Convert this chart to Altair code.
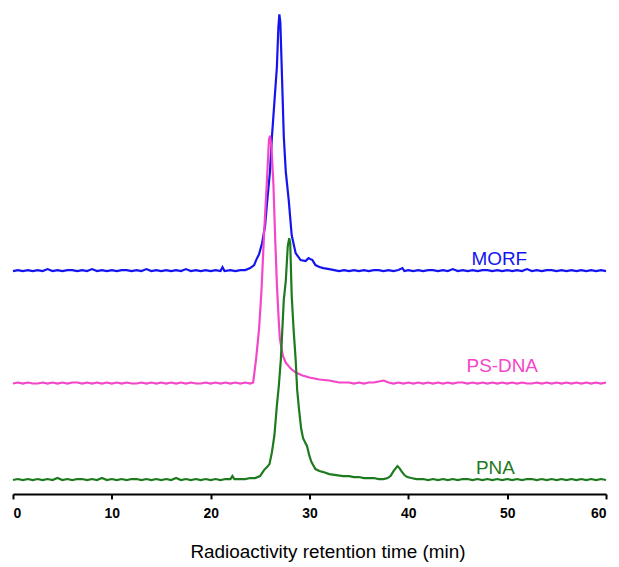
import altair as alt
import pandas as pd

# Retention time (min) and signal height above each trace's own baseline
morf_t = [0, 0.5, 1, 1.5, 2, 2.5, 3, 3.5, 4, 4.5, 5, 5.5, 6, 6.5, 7, 7.5, 8, 8.5, 9, 9.5,
          10, 10.5, 11, 11.5, 12, 12.5, 13, 13.5, 14, 14.5, 15, 15.5, 16, 16.5, 17, 17.5,
          18, 18.5, 19, 19.5, 20, 20.5, 21, 21.2, 21.4, 22, 22.5, 23, 23.5,
          24.0, 24.4, 24.6, 24.9, 25.2, 25.5, 25.7, 26.0, 26.2, 26.45, 26.7, 26.85, 26.95,
          27.05, 27.2, 27.4, 27.6, 27.9, 28.2, 28.6, 29.1, 29.6, 29.9, 30.1, 30.3, 30.6,
          31.0, 31.4, 32.0, 32.5,
          33, 33.5, 34, 34.5, 35, 35.5, 36, 36.5, 37, 37.5, 38, 38.5, 39, 39.4, 39.6, 40,
          40.5, 41, 41.5, 42, 42.5, 43, 43.5, 44, 44.5, 45, 45.5, 46, 46.5, 47, 47.5, 48,
          48.5, 49, 49.5, 50, 50.5, 51, 51.5, 52, 52.5, 53, 53.5, 54, 54.5, 55, 55.5, 56,
          56.5, 57, 57.5, 58, 58.5, 59, 59.5, 60]
morf_h = [0, 1, 0, 1, 0, 1, 0, 2, 0, 1, 0, 1, 1, 0, 1, 0, 2, 0, 1, 0,
          1, 0, 1, 1, 0, 1, 0, 2, 0, 1, 0, 1, 0, 1, 0, 2,
          0, 1, 0, 1, 0, 1, 0, 4, 0, 1, 0, 1, 1,
          3, 6, 11, 17, 28, 45, 68, 100, 135, 170, 205, 245, 258,
          250, 201, 135, 100, 71, 36, 18, 11, 10, 13, 12, 11, 6,
          4, 3, 2, 1,
          0, 1, 0, 1, 0, 1, 0, 1, 1, 0, 1, 0, 1, 3, 0, 1,
          0, 1, 0, 1, 1, 0, 1, 0, 2, 0, 1, 0, 1, 0, 1, 1,
          0, 1, 0, 1, 0, 1, 0, 2, 0, 1, 0, 1, 1, 0, 1, 0,
          1, 0, 1, 0, 1, 0, 1, 0]

psdna_t = [0, 0.5, 1, 1.5, 2, 2.5, 3, 3.5, 4, 4.5, 5, 5.5, 6, 6.5, 7, 7.5, 8, 8.5, 9, 9.5,
           10, 10.5, 11, 11.5, 12, 12.5, 13, 13.5, 14, 14.5, 15, 15.5, 16, 16.5, 17, 17.5,
           18, 18.5, 19, 19.5, 20, 20.5, 21, 21.5, 22, 22.5, 23, 23.5, 24.0, 24.3,
           24.6, 24.9, 25.15, 25.4, 25.7, 25.9, 26.0, 26.15, 26.35, 26.55, 26.7, 26.85,
           27.0, 27.3, 27.6, 28.1, 28.6, 29.3, 30.0, 31.0, 32.0, 33.0,
           34, 34.5, 35, 35.5, 36, 36.5, 37, 37.5, 38, 38.5, 39, 39.5, 40, 40.5, 41, 41.5,
           42, 42.5, 43, 43.5, 44, 44.5, 45, 45.5, 46, 46.5, 47, 47.5, 48, 48.5, 49, 49.5,
           50, 50.5, 51, 51.5, 52, 52.5, 53, 53.5, 54, 54.5, 55, 55.5, 56, 56.5, 57, 57.5,
           58, 58.5, 59, 59.5, 60]
psdna_h = [0, 1, 0, 1, 0, 0, 1, 0, 1, 0, 1, 0, 1, 1, 0, 1, 0, 1, 0, 1,
           0, 1, 0, 1, 0, 0, 1, 0, 1, 0, 1, 0, 1, 0, 1, 0,
           1, 0, 0, 1, 0, 1, 0, 1, 0, 1, 0, 1, 0, 1,
           25, 55, 95, 150, 205, 245, 249, 238, 200, 140, 100, 70,
           45, 28, 21, 15, 11, 8, 6, 4, 3, 1,
           1, 0, 1, 0, 1, 1, 2, 3, 1, 0, 1, 0, 1, 0, 1, 0,
           1, 0, 1, 0, 1, 0, 1, 1, 0, 1, 0, 1, 0, 1, 0, 1,
           0, 1, 0, 1, 0, 0, 1, 0, 1, 0, 1, 0, 1, 0, 1, 0,
           1, 0, 1, 0, 1]

pna_t = [0, 0.5, 1, 1.5, 2, 2.5, 3, 3.5, 4, 4.5, 5, 5.5, 6, 6.5, 7, 7.5, 8, 8.5, 9, 9.5,
         10, 10.5, 11, 11.5, 12, 12.5, 13, 13.5, 14, 14.5, 15, 15.5, 16, 16.5, 17, 17.5,
         18, 18.5, 19, 19.5, 20, 20.5, 21, 21.5, 22.0, 22.2, 22.4, 23, 23.5, 24, 24.5, 25.0,
         25.4, 25.7, 25.95, 26.2, 26.45, 26.7, 26.9, 27.1, 27.4, 27.6, 27.8, 27.95, 28.05,
         28.2, 28.4, 28.6, 28.75, 28.95, 29.15, 29.35, 29.55, 29.75, 30.0, 30.2, 30.6,
         31.0, 31.4, 32.0, 32.7, 33.4, 34.0, 34.5, 35.0, 35.5, 36.0, 36.5, 37.0, 37.5,
         37.9, 38.2, 38.5, 38.9, 39.1, 39.3, 39.6, 39.9, 40.3, 40.8, 41.5,
         42, 42.5, 43, 43.5, 44, 44.5, 45, 45.5, 46, 46.5, 47, 47.5, 48, 48.5, 49, 49.5,
         50, 50.5, 51, 51.5, 52, 52.5, 53, 53.5, 54, 54.5, 55, 55.5, 56, 56.5, 57, 57.5,
         58, 58.5, 59, 59.5, 60]
pna_h = [0, 1, 0, 1, 0, 1, 0, 1, 0, 2, 0, 1, 0, 1, 1, 0, 1, 0, 2, 0,
         1, 0, 1, 0, 1, 1, 0, 1, 0, 1, 0, 1, 0, 2, 0, 1,
         0, 1, 0, 1, 0, 1, 0, 1, 1, 4, 1, 1, 1, 2, 2, 4,
         10, 13, 16, 28, 45, 75, 95, 121, 181, 200, 235, 243, 238,
         185, 150, 121, 91, 70, 52, 42, 38, 34, 24, 18, 11,
         9, 8, 6, 5, 4, 4, 3, 3, 2, 2, 2, 1, 1,
         2, 4, 9, 14, 12, 9, 5, 3, 2, 1, 1,
         0, 1, 0, 1, 0, 1, 0, 1, 1, 0, 1, 0, 1, 0, 1, 0,
         1, 0, 1, 0, 1, 1, 0, 1, 0, 1, 0, 1, 0, 1, 0, 1,
         0, 1, 0, 1, 0]

series_names = ["MORF", "PS-DNA", "PNA"]
series_colors = ["#1414F0", "#F545C8", "#1E7A1E"]
baseline_offsets = [224, 111, 14]
label_t = [49.2, 49.5, 48.8]
label_y = [230, 123, 20]
tick_values = [0, 10, 20, 30, 40, 50, 60]

frames = []
for name, t, h, off in zip(series_names, [morf_t, psdna_t, pna_t],
                           [morf_h, psdna_h, pna_h], baseline_offsets):
    frames.append(pd.DataFrame({"t": t, "y": [v + off for v in h], "series": name}))
df = pd.concat(frames, ignore_index=True)

labels = pd.DataFrame({"t": label_t, "y": label_y, "series": series_names})

color_scale = alt.Scale(domain=series_names, range=series_colors)
x_scale = alt.Scale(domain=[0, 60], nice=False, zero=False)
y_scale = alt.Scale(domain=[0, 484], nice=False, zero=False)

x_axis = alt.Axis(values=tick_values, format="d", grid=False,
                  title="Radioactivity retention time (min)",
                  titleX=316,
                  domainColor="black", domainWidth=2,
                  tickColor="black", tickWidth=2, tickSize=5,
                  labelFont="Liberation Sans", labelFontSize=14,
                  labelFontWeight="bold", labelColor="black", labelPadding=8,
                  titleFont="Liberation Sans", titleFontSize=19,
                  titleFontWeight="normal", titleColor="black",
                  titlePadding=22)

lines = alt.Chart(df).mark_line(strokeWidth=2.2, clip=False).encode(
    x=alt.X("t:Q", scale=x_scale, axis=x_axis),
    y=alt.Y("y:Q", scale=y_scale, axis=None),
    color=alt.Color("series:N", scale=color_scale, legend=None),
    detail="series:N",
)

text = alt.Chart(labels).mark_text(fontSize=19, font="Liberation Sans",
                                   baseline="alphabetic", align="center").encode(
    x=alt.X("t:Q", scale=x_scale, axis=x_axis),
    y=alt.Y("y:Q", scale=y_scale, axis=None),
    text="series:N",
    color=alt.Color("series:N", scale=color_scale, legend=None),
)

chart = (lines + text).properties(
    width=596, height=484, background="white",
    padding={"left": 0, "top": 0, "right": 0, "bottom": 0}
).configure_view(stroke=None)

chart.save("out.html", embed_options={"renderer": "svg", "actions": False})
